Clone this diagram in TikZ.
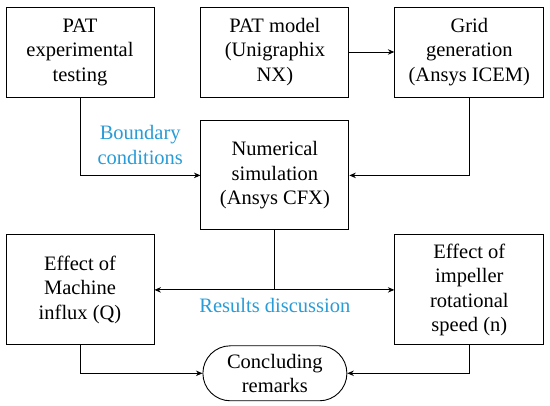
\documentclass[tikz,border=0pt]{standalone}
\usepackage{fontspec}
\setmainfont{Liberation Serif}
\usepackage{xcolor}
\usetikzlibrary{shapes,arrows.meta,positioning,calc}
\definecolor{notecyan}{RGB}{41,155,214}

\begin{document}
\begin{tikzpicture}[
  x=1pt, y=1pt,
  node distance=23pt and 45pt,
  stage/.style={rectangle, draw, line width=0.9pt,
    minimum width=148pt, minimum height=90pt, inner sep=2pt,
    align=center, font=\fontsize{20.5}{24.5}\selectfont},
  finish/.style={rounded rectangle, draw, line width=0.9pt,
    minimum width=148pt, minimum height=55pt, inner sep=2pt,
    align=center, font=\fontsize{20.5}{24.5}\selectfont},
  note/.style={text=notecyan, align=center, font=\fontsize{20.5}{24.5}\selectfont},
  arrow/.style={-{Stealth[length=6.5pt, width=5.5pt]}, line width=0.9pt}
]
\useasboundingbox (0,0) rectangle (550,406);
\node[stage] (exp) at (80,354) {PAT\\experimental\\testing};
\node[stage, right=46pt of exp] (model) {PAT model\\(Unigraphix\\NX)};
\node[stage, right=45pt of model, minimum width=149pt] (grid) {Grid\\generation\\(Ansys ICEM)};
\node[stage, below=23pt of model, minimum height=109pt] (sim) {Numerical\\simulation\\(Ansys CFX)};
\node[stage, below=137pt of exp, minimum height=110pt] (flow) {Effect of\\Machine\\influx (Q)};
\node[stage, below=137pt of grid, minimum width=149pt, minimum height=110pt] (speed) {Effect of\\impeller\\rotational\\speed (n)};
\node[finish, below=115pt of sim] (end) {Concluding\\remarks};
% connectors
\draw[arrow] (exp) |- node[note, pos=0.75, above=7pt] {Boundary\\conditions} (sim);
\draw[arrow] (model) -- (grid);
\draw[arrow] (grid) |- (sim);
\coordinate (split) at (sim.south |- flow.east);
\draw[line width=0.9pt] (sim) -- (split);
\draw[arrow] (split) -- (flow);
\draw[arrow] (split) -- (speed);
\node[note, below=5pt of split] (res) {Results discussion};
\draw[arrow] (flow) |- (end);
\draw[arrow] (speed) |- (end);
\end{tikzpicture}
\end{document}
